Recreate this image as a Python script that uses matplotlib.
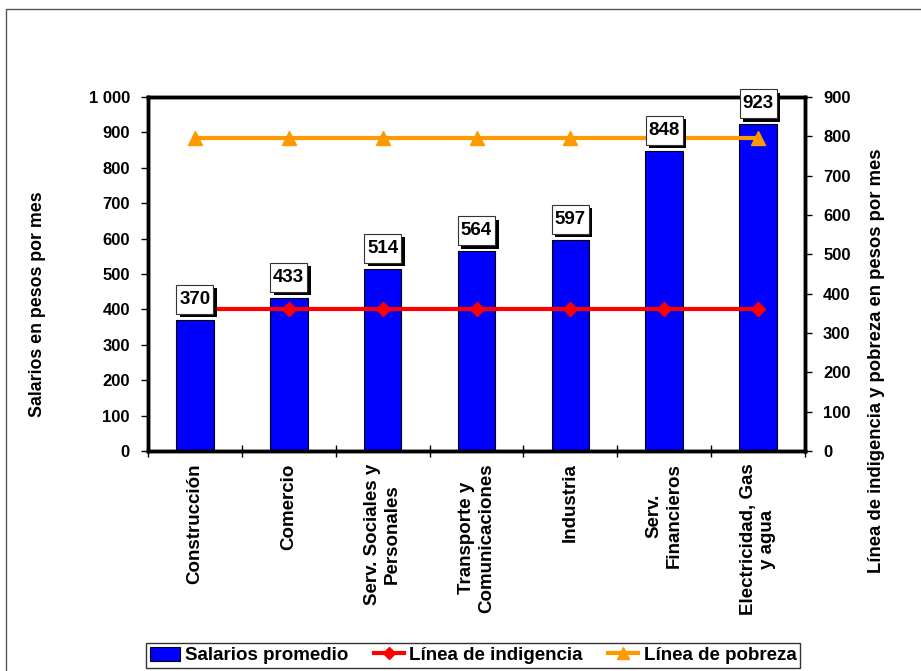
import matplotlib
matplotlib.use("Agg")
import matplotlib.pyplot as plt
import matplotlib.patheffects as pe
from matplotlib.patches import Rectangle
from matplotlib.lines import Line2D
from matplotlib.path import Path
from matplotlib.ticker import FuncFormatter, FixedLocator
import numpy as np

plt.rcParams['font.family'] = ['Liberation Sans', 'DejaVu Sans']
plt.rcParams['font.weight'] = 'bold'

sectores = ["Construcción", "Comercio", "Serv. Sociales y\nPersonales",
            "Transporte y\nComunicaciones", "Industria", "Serv.\nFinancieros",
            "Electricidad, Gas\ny agua"]
salarios = [370, 433, 514, 564, 597, 848, 923]
linea_indigencia = [360, 360, 360, 360, 360, 360, 360]
linea_pobreza = [795, 795, 795, 795, 795, 795, 795]

AZUL = "#0000FF"
ROJO = "#FF0000"
NARANJA = "#FF9900"


def caja_etiqueta(x0, y0, width, height, mutation_size):
    """Square box with a small side margin and a taller top/bottom margin."""
    px = 0.16 * mutation_size
    py = 0.32 * mutation_size
    x0, y0 = x0 - px, y0 - py
    x1, y1 = x0 + width + 2 * px, y0 + height + 2 * py
    return Path([(x0, y0), (x1, y0), (x1, y1), (x0, y1), (x0, y0)], closed=True)


fig = plt.figure(figsize=(9.21, 6.71), dpi=100)

# outer chart frame
fig.patches.append(Rectangle((6 / 921, -0.05), 1.1, 1 - 9 / 671 + 0.05,
                             transform=fig.transFigure, fill=False,
                             edgecolor="#555555", linewidth=1.0))

ax = fig.add_axes([148 / 921, 1 - 451 / 671, (805 - 148) / 921, (451 - 97) / 671])
ax2 = ax.twinx()

x = np.arange(len(sectores))
ax.bar(x, salarios, width=0.4, color=AZUL, edgecolor="black", linewidth=0.8, zorder=2)

ax.set_xlim(-0.5, len(sectores) - 0.5)
ax.set_ylim(0, 1000)
ax.set_yticks(np.arange(0, 1001, 100))
ax.yaxis.set_major_formatter(FuncFormatter(lambda v, p: f"{int(v):,}".replace(",", " ")))

# category boundaries carry the tick marks, labels sit at the centres
ax.xaxis.set_major_locator(FixedLocator(np.arange(-0.5, len(sectores), 1.0)))
ax.xaxis.set_major_formatter(FuncFormatter(lambda v, p: ""))
ax.xaxis.set_minor_locator(FixedLocator(x))
ax.set_xticklabels(sectores, minor=True, rotation=90, ha="center", va="top",
                   multialignment="center", fontsize=13.5, fontweight="bold")
ax.tick_params(axis="x", which="major", direction="inout", length=8, width=1)
ax.tick_params(axis="x", which="minor", length=0, pad=9)
ax.tick_params(axis="y", direction="out", length=5, width=1, pad=8, labelsize=12)

for sp in ax.spines.values():
    sp.set_linewidth(2.5)
for sp in ax2.spines.values():
    sp.set_linewidth(2.5)

ax2.set_ylim(0, 900)
ax2.set_yticks(np.arange(0, 901, 100))
ax2.tick_params(axis="y", direction="out", length=5, width=1, pad=8, labelsize=12)

fig.text(37.5 / 921, 1 - 304 / 671, "Salarios en pesos por mes", rotation=90,
         ha="center", va="center", fontsize=12.8, fontweight="bold")
fig.text(876 / 921, 1 - 361 / 671, "Línea de indigencia y pobreza en pesos por mes",
         rotation=90, ha="center", va="center", fontsize=13.3, fontweight="bold")

ax2.plot(x, linea_indigencia, color=ROJO, linewidth=3, marker="D", markersize=7,
         zorder=3)
ax2.plot(x, linea_pobreza, color=NARANJA, linewidth=3, marker="^", markersize=10,
         zorder=3)

# value labels in shadowed boxes above each bar
for xi, v in zip(x, salarios):
    t = ax2.annotate(f"{v}", xy=(xi, v), xycoords=ax.transData, xytext=(0, 14.8),
                     textcoords="offset points", ha="center", va="center",
                     fontsize=13.5, fontweight="bold", zorder=5,
                     bbox=dict(boxstyle=caja_etiqueta, facecolor="white",
                               edgecolor="#333333", linewidth=0.8))
    t.get_bbox_patch().set_path_effects([
        pe.SimplePatchShadow(offset=(2.5, -2.5), shadow_rgbFace="black", alpha=1.0),
        pe.Normal()])

handles = [Rectangle((0, 0), 1, 1, facecolor=AZUL, edgecolor="black", linewidth=0.8),
           Line2D([], [], color=ROJO, linewidth=3, marker="D", markersize=6),
           Line2D([], [], color=NARANJA, linewidth=3, marker="^", markersize=9)]
leg = fig.legend(handles, ["Salarios promedio", "Línea de indigencia", "Línea de pobreza"],
                 loc="lower left", bbox_to_anchor=(146 / 921, 3 / 671, (800 - 146) / 921, 28 / 671),
                 mode="expand", ncol=3, frameon=True, fancybox=False,
                 prop=dict(size=13.5, weight="bold"), handlelength=1.6,
                 handleheight=0.8, handletextpad=0.3, columnspacing=1.2,
                 borderpad=0.2, borderaxespad=0)
leg.get_frame().set_edgecolor("black")
leg.get_frame().set_linewidth(1)

fig.savefig("out.png", dpi=100)
